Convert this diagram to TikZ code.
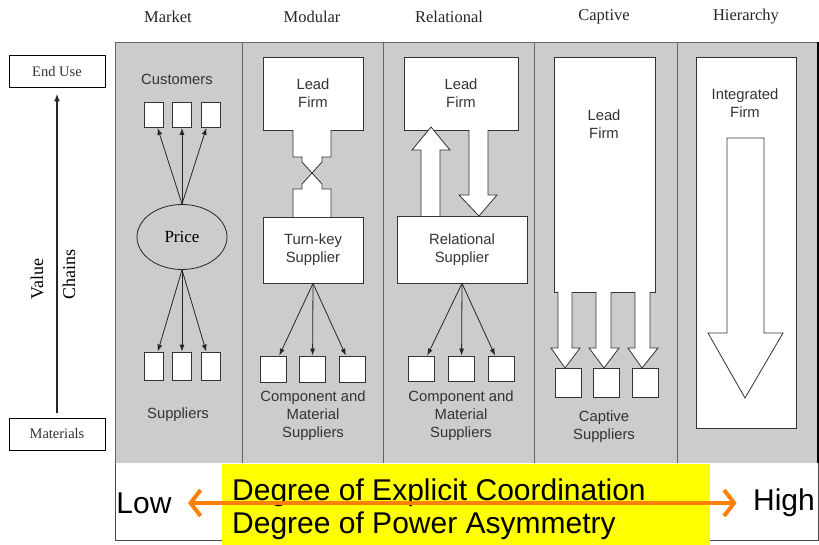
\documentclass[tikz,border=0pt]{standalone}
\usepackage{fontspec}
\setmainfont{Liberation Serif}
\setsansfont{Liberation Sans}
\usetikzlibrary{shapes,arrows,arrows.meta}

\definecolor{panelgray}{RGB}{204,204,204}
\definecolor{degreeyellow}{RGB}{255,255,0}
\definecolor{degreeorange}{RGB}{255,128,0}

\tikzset{
  title/.style={font=\fontsize{16.5}{20}\selectfont, text=black!85},
  endbox/.style={draw=black, line width=1pt, fill=white, minimum width=96, minimum height=32,
    inner sep=0pt, font=\fontsize{14.5}{17}\selectfont, text=black!80},
  firmbox/.style={draw=black!80, fill=white, line width=0.8pt, inner sep=0pt, align=center,
    font=\sffamily\fontsize{14.8}{18}\selectfont, text=black!80},
  smallbox/.style={draw=black!80, fill=white, line width=0.8pt, inner sep=0pt},
  lbl/.style={font=\sffamily\fontsize{14.8}{18}\selectfont, align=center, text=black!80},
  link/.style={-{Latex[length=7pt,width=5pt]}, draw=black!85, line width=0.8pt},
  blockarrow/.style={draw=black!80, fill=white, line width=0.8pt},
  bigtext/.style={font=\sffamily\fontsize{30}{34}\selectfont},
}

\begin{document}
\begin{tikzpicture}[x=1pt,y=-1pt]
    \useasboundingbox (0,0) rectangle (819,545);

    % panels
    \fill[panelgray] (115,42) rectangle (818,463);
    \draw[black!60, line width=0.8pt] (242,42) -- (242,463);
    \draw[black!60, line width=0.8pt] (383,42) -- (383,463);
    \draw[black!60, line width=0.8pt] (534,42) -- (534,463);
    \draw[black!60, line width=0.8pt] (677,42) -- (677,463);
    \draw[black!60, line width=0.8pt] (115,463) -- (115,42) -- (818,42);
    \draw[black, line width=1.2pt] (818,42) -- (818,463);

    \node [title] (tmarket) at (168,17) {Market};
    \node [title] (tmodular) at (312,17) {Modular};
    \node [title] (trelational) at (449,17) {Relational};
    \node [title] (tcaptive) at (604,17) {Captive};
    \node [title] (thierarchy) at (746,17) {Hierarchy};

    % value chain axis
    \node [endbox] (enduse) at (57,72) {End Use};
    \node [endbox] (materials) at (57,434) {Materials};
    \draw[-{Latex[length=8pt,width=6pt]}, line width=2pt, black!85, shorten <=5pt, shorten >=5pt]
      (materials) -- (enduse);
    \node [rotate=90, anchor=base west, font=\fontsize{18}{20}\selectfont, inner sep=0pt] (value) at (43,300) {Value};
    \node [rotate=90, anchor=base west, font=\fontsize{18}{20}\selectfont, inner sep=0pt] (chains) at (75,300) {Chains};

    % market
    \node [lbl] (customers) at (177,79) {Customers};
    \node [smallbox, minimum width=19, minimum height=25] (cust1) at (153.5,115) {};
    \node [smallbox, minimum width=19, minimum height=25] (cust2) at (182,115) {};
    \node [smallbox, minimum width=19, minimum height=25] (cust3) at (210.5,115) {};
    \node [ellipse, draw=black!85, line width=0.8pt, minimum width=90, minimum height=65,
      font=\fontsize{17}{20}\selectfont] (price) at (182,237) {Price};
    \node [smallbox, minimum width=19, minimum height=28] (msup1) at (153.5,366) {};
    \node [smallbox, minimum width=19, minimum height=28] (msup2) at (182,366) {};
    \node [smallbox, minimum width=19, minimum height=28] (msup3) at (210.5,366) {};
    \draw[link] (price.north) -- (cust1);
    \draw[link] (price.north) -- (cust2);
    \draw[link] (price.north) -- (cust3);
    \draw[link] (price.south) -- (msup1);
    \draw[link] (price.south) -- (msup2);
    \draw[link] (price.south) -- (msup3);
    \node [lbl] (msuppliers) at (178,415) {Suppliers};

    % modular
    \node [firmbox, minimum width=100, minimum height=73] (modlead) at (313,93.5) {Lead\\Firm};
    \node [firmbox, minimum width=100, minimum height=66] (turnkey) at (313,250) {Turn-key\\Supplier};
    \draw[blockarrow] (293,130) -- (293,157) -- (302,157) -- (302,162) -- (312,173)
      -- (322,162) -- (322,157) -- (331,157) -- (331,130);
    \draw[blockarrow] (293,217) -- (293,189) -- (302,189) -- (302,184) -- (312,173)
      -- (322,184) -- (322,189) -- (331,189) -- (331,217);
    \node [smallbox, minimum width=26, minimum height=26] (mod1) at (273,369) {};
    \node [smallbox, minimum width=26, minimum height=26] (mod2) at (312.5,369) {};
    \node [smallbox, minimum width=26, minimum height=26] (mod3) at (352,369) {};
    \draw[link] (turnkey.south) -- (mod1);
    \draw[link] (turnkey.south) -- (mod2);
    \draw[link] (turnkey.south) -- (mod3);
    \node [lbl] (modcomp) at (313,416) {Component and\\Material\\Suppliers};

    % relational
    \node [firmbox, minimum width=114, minimum height=73] (rellead) at (461,93.5) {Lead\\Firm};
    \node [firmbox, minimum width=130, minimum height=67] (relsup) at (462,249.5) {Relational\\Supplier};
    \draw[blockarrow] (421,216) -- (421,150) -- (412,150) -- (431,127) -- (450,150)
      -- (440,150) -- (440,216);
    \draw[blockarrow] (469,130) -- (469,195) -- (459,195) -- (479,216) -- (497,195)
      -- (488,195) -- (488,130);
    \node [smallbox, minimum width=26, minimum height=25] (rel1) at (421,368.5) {};
    \node [smallbox, minimum width=26, minimum height=25] (rel2) at (461.5,368.5) {};
    \node [smallbox, minimum width=26, minimum height=25] (rel3) at (501,368.5) {};
    \draw[link] (relsup.south) -- (rel1);
    \draw[link] (relsup.south) -- (rel2);
    \draw[link] (relsup.south) -- (rel3);
    \node [lbl] (relcomp) at (461,416) {Component and\\Material\\Suppliers};

    % captive
    \node [firmbox, minimum width=101, minimum height=235] (caplead) at (604.5,174.5) {};
    \node [lbl] (capleadtext) at (604,124) {Lead\\Firm};
    \draw[blockarrow] (558,292) -- (558,348) -- (551,348) -- (565,368) -- (580,348)
      -- (572,348) -- (572,292);
    \draw[blockarrow] (596,292) -- (596,348) -- (589,348) -- (604,368) -- (619,348)
      -- (611,348) -- (611,292);
    \draw[blockarrow] (635,292) -- (635,348) -- (628,348) -- (642,368) -- (658,348)
      -- (650,348) -- (650,292);
    \node [smallbox, minimum width=26, minimum height=29] (cap1) at (568,382.5) {};
    \node [smallbox, minimum width=26, minimum height=29] (cap2) at (606,382.5) {};
    \node [smallbox, minimum width=26, minimum height=29] (cap3) at (645.5,382.5) {};
    \node [lbl] (capsup) at (604,427) {Captive\\Suppliers};

    % hierarchy
    \node [firmbox, minimum width=100, minimum height=371] (hier) at (746,242.5) {};
    \node [lbl] (hiertext) at (745,103) {Integrated\\Firm};
    \draw[blockarrow] (727,138) -- (727,333) -- (708,333) -- (745,398) -- (783,333)
      -- (764,333) -- (764,138) -- cycle;

    % degree of coordination
    \draw[black!70, line width=0.8pt] (115,463) -- (115,540) -- (818,540) -- (818,463);
    \fill[degreeyellow] (222,464) rectangle (710,545);
    \node [bigtext, anchor=base west, inner sep=0pt] (explicit) at (232,500) {Degree of Explicit Coordination};
    \node [bigtext, anchor=base west, inner sep=0pt] (power) at (232,533) {Degree of Power Asymmetry};
    \node [bigtext] (low) at (144,503) {Low};
    \node [bigtext] (high) at (784,503) {High};
    \draw[degreeorange, line width=4pt, shorten <=13pt, shorten >=13pt,
      {Straight Barb[length=10pt,width=26pt]}-{Straight Barb[length=10pt,width=26pt]}]
      (low) -- (high);
\end{tikzpicture}
\end{document}
